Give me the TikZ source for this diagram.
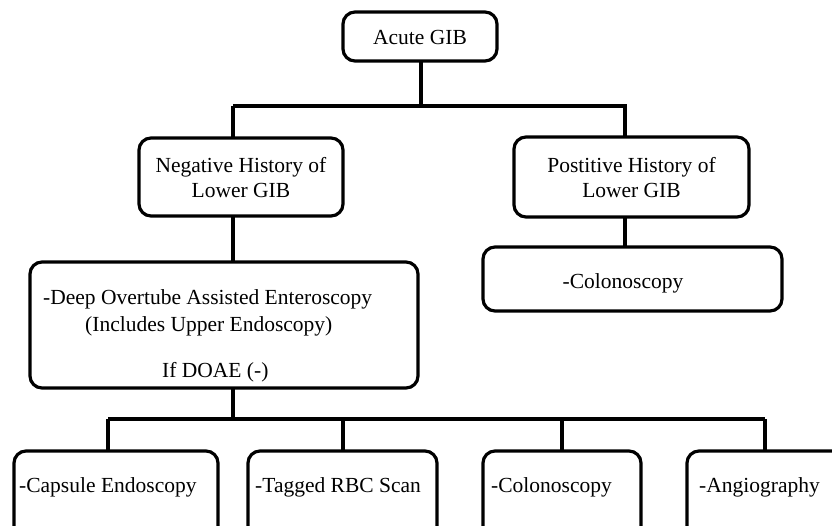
\documentclass[tikz,border=0pt]{standalone}
\usepackage{fontspec}
\setmainfont{Liberation Serif}
\begin{document}
\begin{tikzpicture}[x=1pt,y=-1pt,
  box/.style={draw=black,line width=3.2pt,rounded corners=12pt,inner sep=0pt,fill=white},
  lbl/.style={inner sep=0pt,font=\fontsize{21.5}{25}\selectfont,align=center},
  conn/.style={line width=3.2pt}]
\useasboundingbox (0,0) rectangle (832,525);
\clip (0,0) rectangle (832,525);
\fill[white] (0,0) rectangle (832,525);
% junction coordinates
\coordinate (xa) at (233,0);
\coordinate (xb) at (625,0);
\coordinate (bus1) at (421,106);
\coordinate (bus2) at (233,419);
\coordinate (x1) at (108,0);
\coordinate (x2) at (343,0);
\coordinate (x3) at (562,0);
\coordinate (x4) at (765,0);
% connectors (drawn first, boxes over them)
\draw[conn] (421,40) -- (bus1);
\draw[conn] (xa|-bus1) -- (xa|-bus2);
\draw[conn] (xa|-bus1) -- (xb|-bus1) -- (xb|-0,280);
\draw[conn] (x1|-bus2) -- (x4|-bus2);
\draw[conn] (x1|-bus2) -- (x1|-0,470);
\draw[conn] (x2|-bus2) -- (x2|-0,470);
\draw[conn] (x3|-bus2) -- (x3|-0,470);
\draw[conn] (x4|-bus2) -- (x4|-0,470);
% boxes
\node[box,minimum width=154pt,minimum height=49pt] (acute) at (420,36.5) {};
\node[lbl] (tacute) at (420,37) {Acute GIB};
\node[box,minimum width=204pt,minimum height=78pt] (neg) at (241,177) {};
\node[lbl] (tneg) at (241,178) {Negative History of\\Lower GIB};
\node[box,minimum width=235pt,minimum height=80pt] (pos) at (631.5,177) {};
\node[lbl] (tpos) at (631.5,178) {Postitive History of\\Lower GIB};
\node[box,minimum width=299pt,minimum height=64pt] (colr) at (632.5,279) {};
\node[lbl] (tcolr) at (623,283) {-Colonoscopy};
\node[box,minimum width=388pt,minimum height=126pt] (doae) at (224,325) {};
\node[lbl,anchor=west] (td1) at (43,299) {-Deep Overtube Assisted Enteroscopy};
\node[lbl,anchor=west] (td2) at (85,326) {(Includes Upper Endoscopy)};
\node[lbl,anchor=west] (td3) at (162,372) {If DOAE (-)};
\node[box,minimum width=204pt,minimum height=110pt] (cap) at (116,506) {};
\node[lbl,anchor=west] (tcap) at (19,487) {-Capsule Endoscopy};
\node[box,minimum width=189pt,minimum height=110pt] (tag) at (342.5,506) {};
\node[lbl,anchor=west] (ttag) at (255,487) {-Tagged RBC Scan};
\node[box,minimum width=158pt,minimum height=110pt] (col) at (562,506) {};
\node[lbl,anchor=west] (tcol) at (491,487) {-Colonoscopy};
\node[box,minimum width=190pt,minimum height=110pt] (ang) at (782,506) {};
\node[lbl,anchor=west] (tang) at (699,487) {-Angiography};
\end{tikzpicture}
\end{document}
